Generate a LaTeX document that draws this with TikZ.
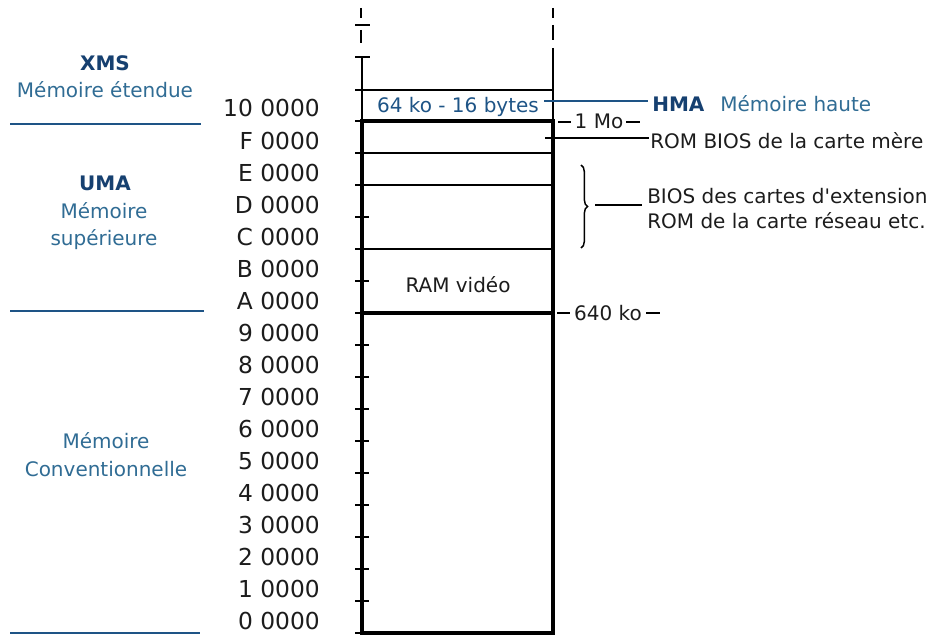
\documentclass[tikz,border=0pt]{standalone}
\usepackage{fontspec}
\setmainfont{DejaVu Sans}
\newfontfamily\dvs{DejaVu Sans}
\usetikzlibrary{decorations.pathreplacing}
\definecolor{dkblue}{RGB}{22,64,112}
\definecolor{ltblue}{RGB}{48,108,148}
\definecolor{lnblue}{RGB}{30,84,134}
\definecolor{txt}{RGB}{28,28,28}
\begin{document}
\begin{tikzpicture}[x=0.75pt,y=-0.75pt,
  lbl/.style={font=\dvs\fontsize{15}{18}\selectfont, text=txt, inner sep=0pt, anchor=base},
  addr/.style={font=\dvs\fontsize{17.5}{20}\selectfont, text=txt, inner sep=0pt, anchor=base east},
  blbold/.style={font=\dvs\fontsize{15}{18}\selectfont\bfseries, text=dkblue, inner sep=0pt, anchor=base},
  blreg/.style={font=\dvs\fontsize{15}{18}\selectfont, text=ltblue, inner sep=0pt, anchor=base},
  boxline/.style={line width=2.6pt, line cap=rect},
  midline/.style={line width=1.3pt},
  thinline/.style={line width=1.1pt},
  tickmark/.style={line width=1.2pt},
  sepline/.style={line width=1.3pt, draw=lnblue},
]
\useasboundingbox (0,0) rectangle (935,635);

% ---- box corners
\coordinate (TL) at (362,121);
\coordinate (TR) at (553,121);
\coordinate (BL) at (362,633);
\coordinate (BR) at (553,633);
\coordinate (AL) at (362,313);
\coordinate (AR) at (553,313);

% ticks on left edge
\foreach \i in {0,...,16}{
  \coordinate (tk\i a) at (355,{121+32*\i});
  \coordinate (tk\i b) at (369,{121+32*\i});
  \draw[tickmark] (tk\i a) -- (tk\i b);
}

% inner separators
\foreach \i in {1,2,4}{
  \coordinate (rr\i) at (553,{121+32*\i});
  \draw[midline] (tk\i a) -- (rr\i);
}
\draw[boxline] (TL) -- (TR) -- (BR) -- (BL) -- cycle;
\draw[boxline] (AL) -- (AR);

% ---- top part (HMA and above)
\coordinate (hL) at (355,90);
\coordinate (hR) at (553,90);
\draw[thinline] (hL) -- (hR);
\coordinate (lt1) at (362,57);
\coordinate (rt1) at (553,48);
\draw[thinline] (lt1) -- (TL);
\draw[thinline] (rt1) -- (TR);
\coordinate (tkA1) at (355,57); \coordinate (tkA2) at (370,57);
\draw[tickmark] (tkA1) -- (tkA2);
\coordinate (tkB1) at (355,25); \coordinate (tkB2) at (370,25);
\draw[tickmark] (tkB1) -- (tkB2);
\coordinate (ld1) at (361,8);  \coordinate (ld2) at (361,18);
\coordinate (ld3) at (361,30); \coordinate (ld4) at (361,43);
\draw[thinline] (ld1) -- (ld2);
\draw[thinline] (ld3) -- (ld4);
\coordinate (rd1) at (553,8);  \coordinate (rd2) at (553,18);
\coordinate (rd3) at (553,25); \coordinate (rd4) at (553,40);
\draw[thinline] (rd1) -- (rd2);
\draw[thinline] (rd3) -- (rd4);

\node[blreg, text=lnblue] (hmasize) at (458,113) {64 ko - 16 bytes};

% HMA label
\coordinate (hmaS) at (544,101);
\coordinate (hmaE) at (648,101);
\draw[line width=1.1pt, draw=lnblue] (hmaS) -- (hmaE);
\node[blbold, anchor=base west] (hma) at (652,111) {HMA};
\node[blreg, anchor=base west] (hmatxt) at (720,111) {Mémoire haute};

% 1 Mo
\node[lbl] (onemo) at (599,128) {1 Mo};
\coordinate (om1) at (558,122); \coordinate (om2) at (571,122);
\coordinate (om3) at (626,122); \coordinate (om4) at (640,122);
\draw[thinline] (om1) -- (om2);
\draw[thinline] (om3) -- (om4);

% ROM BIOS
\coordinate (rbS) at (545,138);
\coordinate (rbE) at (649,138);
\draw[thinline] (rbS) -- (rbE);
\node[lbl, anchor=base west] (rombios) at (650,148) {ROM BIOS de la carte mère};

% brace
\coordinate (brT) at (581,165);
\coordinate (brB) at (581,248);
\draw[line width=1.1pt, decorate, decoration={brace, amplitude=5pt}] (brT) -- (brB);
\coordinate (bl1) at (595,205);
\coordinate (bl2) at (642,205);
\draw[thinline] (bl1) -- (bl2);
\node[lbl, anchor=base west] (bios1) at (647,203) {BIOS des cartes d'extension};
\node[lbl, anchor=base west] (bios2) at (647,228) {ROM de la carte réseau etc.};

% RAM video
\node[lbl] (ramvid) at (458,292) {RAM vidéo};

% 640 ko
\node[lbl] (k640) at (608,320) {640 ko};
\coordinate (k1) at (557,313); \coordinate (k2) at (570,313);
\coordinate (k3) at (646,313); \coordinate (k4) at (660,313);
\draw[thinline] (k1) -- (k2);
\draw[thinline] (k3) -- (k4);

% addresses
\foreach \t [count=\i from 0] in {10 0000,F 0000,E 0000,D 0000,C 0000,B 0000,A 0000,9 0000,8 0000,7 0000,6 0000,5 0000,4 0000,3 0000,2 0000,1 0000,0 0000}{
  \node[addr] (addr\i) at (320,{117+32*\i}) {\t};
}

% left labels
\node[blbold] (xms) at (105,70) {XMS};
\node[blreg] (xmstxt) at (105,98) {Mémoire étendue};
\coordinate (s1a) at (10,124); \coordinate (s1b) at (201,124);
\draw[sepline] (s1a) -- (s1b);

\node[blbold] (uma) at (105,190) {UMA};
\node[blreg] (umat1) at (104,218) {Mémoire};
\node[blreg] (umat2) at (104,245) {supérieure};
\coordinate (s2a) at (10,311); \coordinate (s2b) at (204,311);
\draw[sepline] (s2a) -- (s2b);

\node[blreg] (conv1) at (106,448) {Mémoire};
\node[blreg] (conv2) at (106,476) {Conventionnelle};
\coordinate (s3a) at (10,633); \coordinate (s3b) at (200,633);
\draw[sepline] (s3a) -- (s3b);
\end{tikzpicture}
\end{document}
